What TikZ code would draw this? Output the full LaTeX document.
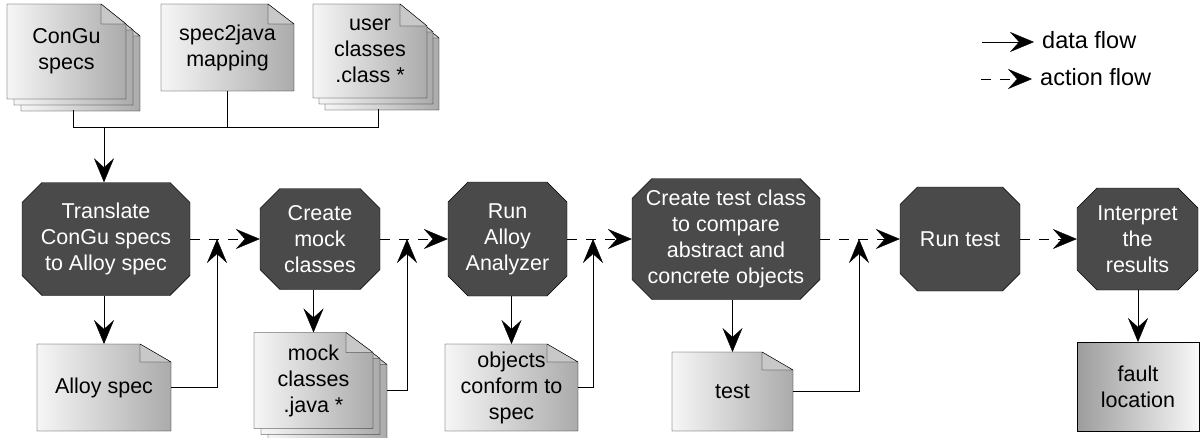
\documentclass[tikz,border=0pt]{standalone}
\usepackage{fontspec}
\setmainfont{Liberation Sans}
\usetikzlibrary{arrows.meta,shapes.misc,calc}
\pgfdeclarelayer{background}
\pgfsetlayers{background,main}
\definecolor{procfill}{HTML}{4A4A4A}
\definecolor{docL}{HTML}{F6F6F6}
\definecolor{docR}{HTML}{ABABAB}
\definecolor{foldfill}{HTML}{C8C8C8}
\definecolor{faultL}{HTML}{9C9C9C}
\definecolor{faultR}{HTML}{F8F8F8}
% #1 node, #2 dx, #3 dy, #4 fold width, #5 fold height
\newcommand\docsheet[5]{%
  \draw[docbody] ($(#1.north west)+(#2,#3)$) -- ($(#1.north east)+(#2-#4,#3)$) -- ($(#1.north east)+(#2,#3+#5)$) -- ($(#1.south east)+(#2,#3)$) -- ($(#1.south west)+(#2,#3)$) -- cycle;
  \draw[docfold] ($(#1.north east)+(#2-#4,#3)$) -- ($(#1.north east)+(#2-#4,#3+#5)$) -- ($(#1.north east)+(#2,#3+#5)$) -- cycle;
}
\begin{document}
\begin{tikzpicture}[x=1pt,y=-1pt,
  font=\fontsize{21.5}{26}\selectfont,
  line width=2pt,
  >={Stealth[length=24pt,width=20pt,inset=9pt]},
  proc/.style={chamfered rectangle, chamfered rectangle xsep=10pt, chamfered rectangle ysep=10pt,
    fill=procfill, draw=black, text=white, align=center, inner sep=0pt, line join=round},
  doc/.style={rectangle, inner sep=0pt, align=center},
  docbody/.style={draw=black, left color=docL, right color=docR, line join=round},
  docfold/.style={draw=black, fill=foldfill, line join=round},
  dataflow/.style={->},
  actionflow/.style={->, dash pattern=on 10pt off 9pt},
  legendtext/.style={anchor=west, inner xsep=8pt, inner ysep=0pt, font=\fontsize{23.5}{28}\selectfont},
]
\useasboundingbox (0,0) rectangle (1202,437);

% ---------- documents (text nodes) ----------
\node[doc, minimum width=117pt, minimum height=93pt] (congu) at (66.5,51.5) {ConGu\\specs};
\node[doc, minimum width=131pt, minimum height=85pt] (s2j) at (227.5,47.5) {spec2java\\mapping};
\node[doc, minimum width=112pt, minimum height=92pt] (uc) at (370,51) {user\\classes\\.class *};
\node[doc, minimum width=132pt, minimum height=85pt] (alloyspec) at (104,387.5) {Alloy spec};
\node[doc, minimum width=117pt, minimum height=94pt] (mockdoc) at (313.5,380.5) {mock\\classes\\.java *};
\node[doc, minimum width=131pt, minimum height=85pt] (objects) at (511.5,387.5) {objects\\conform to\\spec};
\node[doc, minimum width=119pt, minimum height=77pt] (test) at (732.5,391.5) {test};
\node[doc, minimum width=120pt, minimum height=87pt] (fault) at (1138,386.5) {fault\\location};

\begin{pgfonlayer}{background}
  \docsheet{congu}{14}{12}{25}{20}
  \docsheet{congu}{7}{6}{25}{20}
  \docsheet{congu}{0}{0}{25}{20}
  \docsheet{s2j}{0}{0}{26}{20}
  \docsheet{uc}{12}{12}{27}{22}
  \docsheet{uc}{6}{6}{27}{22}
  \docsheet{uc}{0}{0}{27}{22}
  \docsheet{alloyspec}{0}{0}{31}{18}
  \docsheet{mockdoc}{14}{12}{27}{20}
  \docsheet{mockdoc}{7}{6}{27}{20}
  \docsheet{mockdoc}{0}{0}{27}{20}
  \docsheet{objects}{0}{0}{31}{18}
  \docsheet{test}{0}{0}{31}{18}
  \draw[draw=black, left color=faultL, right color=faultR] (fault.north west) rectangle (fault.south east);
\end{pgfonlayer}

% ---------- processes ----------
\node[proc, minimum width=168pt, minimum height=113pt] (translate) at (106,239) {Translate\\ConGu specs\\to Alloy spec};
\node[proc, minimum width=120pt, minimum height=101pt] (mockproc) at (320,239) {Create\\mock\\classes};
\node[proc, minimum width=119pt, minimum height=114pt] (runalloy) at (507.5,239) {Run\\Alloy\\Analyzer};
\node[proc, minimum width=188pt, minimum height=121pt] (createtest) at (726,239) {Create test class\\to compare\\abstract and\\concrete objects};
\node[proc, minimum width=120pt, minimum height=104pt] (runtest) at (960,239) {Run test};
\node[proc, minimum width=121pt, minimum height=102pt] (interpret) at (1137.5,239) {Interpret\\the\\results};

% ---------- top bus ----------
\coordinate (congu-b) at (73,110);
\coordinate (uc-b) at (378,109);
\coordinate (bus-l) at (73,127);
\coordinate (bus-r) at (378,127);
\draw (congu-b) -- (bus-l) -- (bus-r) -- (uc-b);
\draw (s2j.south) -- (s2j.south |- bus-l);
\draw[dataflow] (alloyspec.north |- bus-l) -- (alloyspec.north |- translate.north);

% ---------- action flow ----------
\draw[actionflow] (translate.east) -- (mockproc.west);
\draw[actionflow] (mockproc.east) -- (runalloy.west);
\draw[actionflow] (runalloy.east) -- (createtest.west);
\draw[actionflow] (createtest.east) -- (runtest.west);
\draw[actionflow] (runtest.east) -- (interpret.west);

% ---------- data flow down ----------
\draw[dataflow] (translate.south -| alloyspec.north) -- (alloyspec.north);
\draw[dataflow] (mockproc.south -| mockdoc.north) -- (mockdoc.north);
\draw[dataflow] (runalloy.south -| objects.north) -- (objects.north);
\draw[dataflow] (createtest.south -| test.north) -- (test.north);
\draw[dataflow] (interpret.south -| fault.north) -- (fault.north);

% ---------- data flow back up ----------
\coordinate (j1) at (217,239);
\coordinate (j2) at (407,239);
\coordinate (j3) at (593,239);
\coordinate (j4) at (859,239);
\draw[dataflow] (alloyspec.east) -| (j1);
\draw[dataflow] ($(mockdoc.east)+(14,10)$) -| (j2);
\draw[dataflow] (objects.east) -| (j3);
\draw[dataflow] (test.east) -| (j4);

% ---------- legend ----------
\node[legendtext] (lgdata) at (1034,40) {data flow};
\node[legendtext] (lgaction) at (1032,77) {action flow};
\coordinate (ld0) at (982,42);
\coordinate (la0) at (981,79);
\draw[dataflow] (ld0) -- (lgdata.west |- ld0);
\draw[actionflow] (la0) -- (lgaction.west |- la0);
\end{tikzpicture}
\end{document}
